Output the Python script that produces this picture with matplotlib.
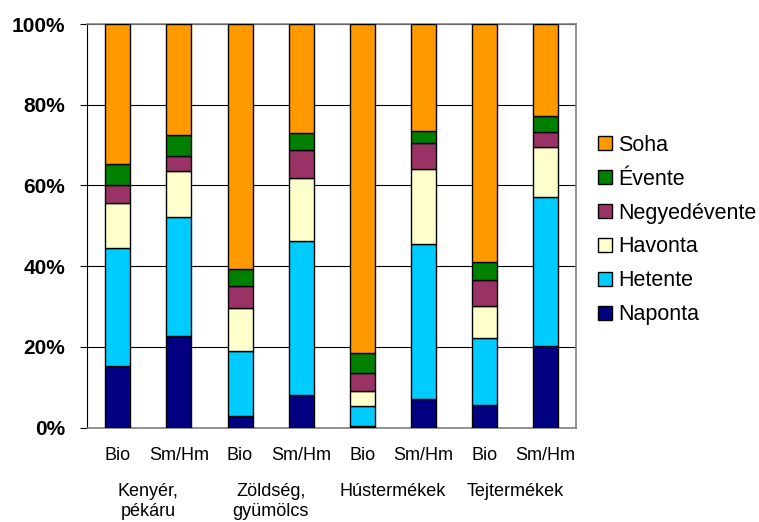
import matplotlib
matplotlib.use("Agg")
import matplotlib.pyplot as plt
from matplotlib.patches import Patch
import numpy as np

plt.rcParams['font.family'] = ['Liberation Sans', 'DejaVu Sans']

# Bar labels and product groups
bar_labels = ["Bio", "Sm/Hm", "Bio", "Sm/Hm", "Bio", "Sm/Hm", "Bio", "Sm/Hm"]
group_labels = ["Kenyér,\npékáru", "Zöldség,\ngyümölcs", "Hústermékek", "Tejtermékek"]

# Share of respondents per purchase frequency (%)
naponta = [15.3, 22.6, 3.0, 8.2, 0.4, 7.1, 5.7, 20.2]
hetente = [29.1, 29.7, 16.1, 38.0, 4.9, 38.3, 16.4, 36.9]
havonta = [11.3, 11.3, 10.6, 15.7, 3.9, 18.8, 8.0, 12.4]
negyedevente = [4.5, 3.7, 5.5, 6.8, 4.4, 6.3, 6.4, 3.7]
evente = [5.1, 5.2, 4.1, 4.2, 4.9, 3.0, 4.5, 4.1]
soha = [34.7, 27.5, 60.7, 27.1, 81.5, 26.5, 59.0, 22.7]

series = [
    ("Naponta", naponta, "#000080"),
    ("Hetente", hetente, "#00CCFF"),
    ("Havonta", havonta, "#FFFFCC"),
    ("Negyedévente", negyedevente, "#993366"),
    ("Évente", evente, "#008000"),
    ("Soha", soha, "#FF9900"),
]

fig = plt.figure(figsize=(7.59, 5.22), dpi=100)
ax = fig.add_axes([0.115, 0.1807, 0.6440, 0.7733])

x = np.arange(len(bar_labels))
bottom = np.zeros(len(bar_labels))
for name, vals, color in series:
    vals = np.array(vals, dtype=float)
    ax.bar(x, vals, width=0.41, bottom=bottom, color=color,
           edgecolor="black", linewidth=1.0, zorder=3)
    bottom += vals

ax.set_xlim(-0.5, len(bar_labels) - 0.5)
ax.set_ylim(0, 100)
ax.set_yticks(np.arange(0, 101, 20))
ax.set_yticklabels([f"{v}%" for v in range(0, 101, 20)],
                   fontsize=15, fontweight="bold")
ax.yaxis.grid(True, color="black", linewidth=0.8, zorder=0)
ax.tick_params(axis="y", length=5, width=0.8, pad=11, color="black")
ax.tick_params(axis="x", length=0, pad=14)
ax.set_xticks(x)
ax.set_xticklabels(bar_labels, fontsize=13)

for side in ("top", "right", "bottom"):
    ax.spines[side].set_color("#808080")
    ax.spines[side].set_linewidth(1.2)
ax.spines["left"].set_color("black")
ax.spines["left"].set_linewidth(0.8)

# Product group names centred under each pair of bars
group_centers = x.reshape(-1, 2).mean(axis=1)
for gx, gl in zip(group_centers, group_labels):
    ax.text(gx, -13.6, gl, ha="center", va="top", fontsize=13,
            linespacing=1.3, transform=ax.transData, clip_on=False)

handles = [Patch(facecolor=c, edgecolor="black", linewidth=1.0, label=n)
           for n, _, c in reversed(series)]
fig.legend(handles=handles, loc="upper left", bbox_to_anchor=(0.788, 0.742),
           frameon=False, fontsize=15.5, handlelength=0.65, handleheight=0.65,
           handletextpad=0.3, labelspacing=0.6, borderpad=0, borderaxespad=0)

fig.savefig("out.png", dpi=100)
